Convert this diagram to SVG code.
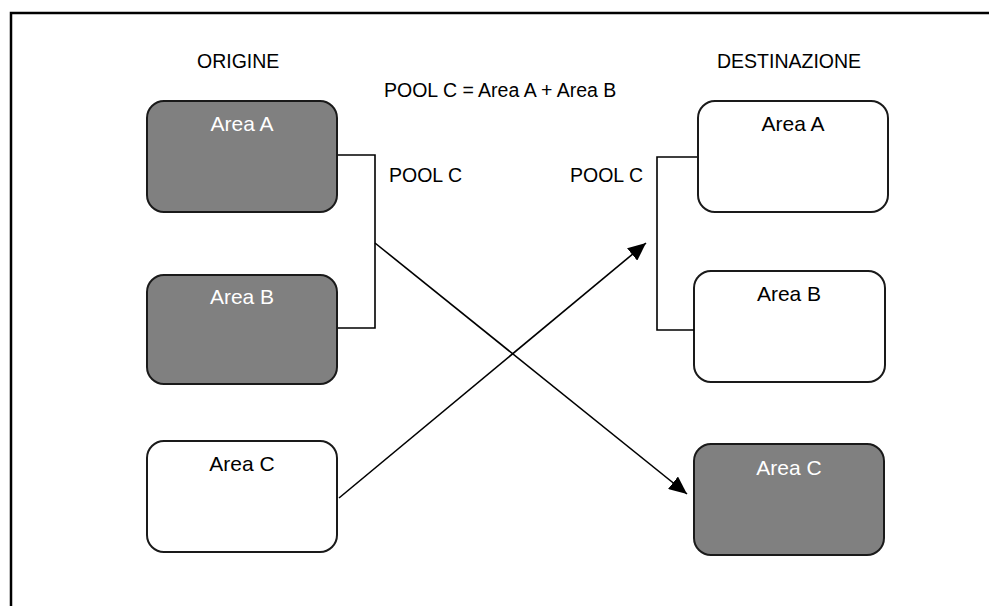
<svg xmlns="http://www.w3.org/2000/svg" width="989" height="606" viewBox="0 0 989 606">
<style>
.lbl{font-family:"Liberation Sans",Arial,sans-serif;font-size:19.5px;fill:#000}
.area{font-family:"Liberation Sans",Arial,sans-serif;font-size:21px;text-anchor:middle}
.dark rect{fill:#808080;stroke:#1a1a1a;stroke-width:2}
.dark text{fill:#ffffff}
.light rect{fill:#ffffff;stroke:#1a1a1a;stroke-width:2}
.light text{fill:#000}
.conn{fill:none;stroke:#000;stroke-width:1.6}
</style>
<defs>
<marker id="ah" markerUnits="userSpaceOnUse" markerWidth="20" markerHeight="16" refX="18" refY="8" orient="auto">
<path d="M0,0 L18,8 L0,16 Z" fill="#000"/>
</marker>
</defs>
<rect width="989" height="606" fill="#fff"/>
<path d="M11,620 L11,13 L995,13" fill="none" stroke="#000" stroke-width="2.5"/>
<text class="lbl" x="197" y="68">ORIGINE</text>
<text class="lbl" x="717" y="68">DESTINAZIONE</text>
<text class="lbl" x="384" y="97">POOL C = Area A + Area B</text>
<text class="lbl" x="389" y="182">POOL C</text>
<text class="lbl" x="570" y="182">POOL C</text>
<g id="orig-a" class="dark"><rect x="147" y="101" width="190" height="111" rx="17"/><text class="area" x="242" y="131">Area A</text></g>
<g id="orig-b" class="dark"><rect x="147" y="275" width="190" height="109" rx="17"/><text class="area" x="242" y="304">Area B</text></g>
<g id="orig-c" class="light"><rect x="147" y="441" width="190" height="111" rx="17"/><text class="area" x="242" y="471">Area C</text></g>
<g id="dest-a" class="light"><rect x="698" y="101" width="190" height="111" rx="17"/><text class="area" x="793" y="131">Area A</text></g>
<g id="dest-b" class="light"><rect x="694" y="271" width="191" height="111" rx="17"/><text class="area" x="789" y="301">Area B</text></g>
<g id="dest-c" class="dark"><rect x="694" y="444" width="190" height="111" rx="17"/><text class="area" x="789" y="475">Area C</text></g>
<g id="connectors">
<path class="conn" d="M338,155 L375,155 L375,328 L338,328"/>
<path class="conn" d="M697,157 L657,157 L657,330 L694,330"/>
<line class="conn" x1="375" y1="243" x2="687" y2="494" marker-end="url(#ah)"/>
<line class="conn" x1="339" y1="498" x2="646" y2="243" marker-end="url(#ah)"/>
</g>
</svg>
